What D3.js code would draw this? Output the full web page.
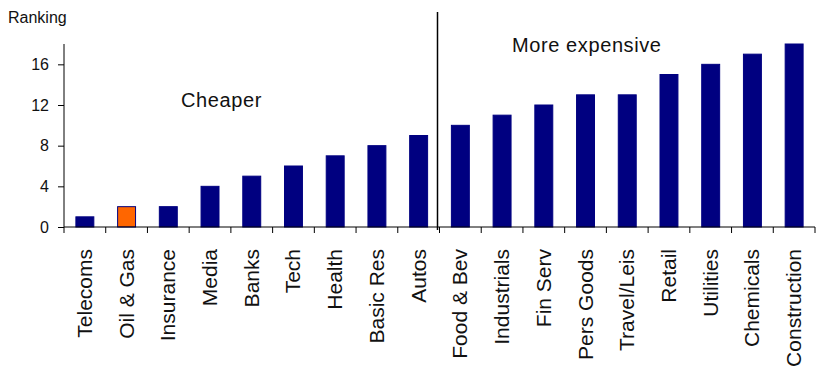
<!DOCTYPE html>
<html>
<head>
<meta charset="utf-8">
<script src="https://cdn.jsdelivr.net/npm/d3@7"></script>
<style>
  html, body { margin: 0; padding: 0; background: #fff; }
  svg { display: block; font-family: "Liberation Sans", Arial, sans-serif; }
</style>
</head>
<body>
<svg id="chart" width="817" height="372"></svg>
<script>
const categories = ["Telecoms", "Oil & Gas", "Insurance", "Media", "Banks", "Tech", "Health", "Basic Res", "Autos",
  "Food & Bev", "Industrials", "Fin Serv", "Pers Goods", "Travel/Leis", "Retail", "Utilities", "Chemicals", "Construction"];
const rankings = [1, 2, 2, 4, 5, 6, 7, 8, 9, 10, 11, 12, 13, 13, 15, 16, 17, 18];
const highlighted = ["Oil & Gas"];
const yTicks = [0, 4, 8, 12, 16];
const yTitle = "Ranking";
const dividerBefore = "Food & Bev";
const groupLabels = ["Cheaper", "More expensive"];

const svg = d3.select("#chart");
const W = 817, H = 372;
const m = { top: 44, right: 2, bottom: 145, left: 64 };
const x0 = m.left, x1 = W - m.right, y0 = H - m.bottom, y1 = m.top;

const x = d3.scaleBand().domain(categories).range([x0, x1]).paddingInner(0.57).paddingOuter(0.285);
const y = d3.scaleLinear().domain([0, 18]).range([y0, y1]);
const step = x.step();

// bars
svg.append("g").selectAll("rect").data(categories).join("rect")
  .attr("x", d => x(d))
  .attr("y", (d, i) => y(rankings[i]))
  .attr("width", x.bandwidth())
  .attr("height", (d, i) => y(0) - y(rankings[i]))
  .attr("fill", d => highlighted.includes(d) ? "#FF6600" : "#000080")
  .attr("stroke", "#000080")
  .attr("stroke-width", 1);

// y axis
const yAxis = svg.append("g").attr("transform", `translate(${x0},0)`)
  .call(d3.axisLeft(y).tickValues(yTicks).tickSize(6).tickPadding(9).tickFormat(d3.format("d")));
yAxis.select(".domain").attr("d", `M0,${y1}V${y0}`).attr("stroke", "#000");
yAxis.selectAll("text").attr("font-size", 16).attr("fill", "#111");

// x axis: ticks at category boundaries
const boundaries = d3.range(categories.length + 1).map(i => x0 + i * step);
const xg = svg.append("g");
xg.append("line").attr("x1", x0).attr("x2", x1).attr("y1", y0).attr("y2", y0).attr("stroke", "#000");
xg.selectAll("line.tick").data(boundaries).join("line").attr("class", "tick")
  .attr("x1", d => d).attr("x2", d => d).attr("y1", y0).attr("y2", y0 + 6).attr("stroke", "#000");
xg.selectAll("text").data(categories).join("text")
  .attr("transform", d => `translate(${x(d) + x.bandwidth() / 2 + 7},${y0 + 22}) rotate(-90)`)
  .attr("text-anchor", "end")
  .attr("font-size", 21)
  .attr("fill", "#111")
  .text(d => d);

// divider
const dx = x(dividerBefore) - (x(dividerBefore) - x0) % step - 2;
const divX = x0 + categories.indexOf(dividerBefore) * step - 2;
svg.append("line").attr("x1", divX).attr("x2", divX).attr("y1", 12).attr("y2", y0 + 3)
  .attr("stroke", "#000").attr("stroke-width", 1.5);

// titles
svg.append("text").attr("x", 8).attr("y", 23).attr("font-size", 16).attr("fill", "#111").text(yTitle);
svg.append("text").attr("x", 181).attr("y", 107).attr("font-size", 20).attr("fill", "#111")
  .attr("letter-spacing", 0.6).text(groupLabels[0]);
svg.append("text").attr("x", 512).attr("y", 52).attr("font-size", 20).attr("fill", "#111")
  .attr("letter-spacing", 0.6).text(groupLabels[1]);
</script>
</body>
</html>
